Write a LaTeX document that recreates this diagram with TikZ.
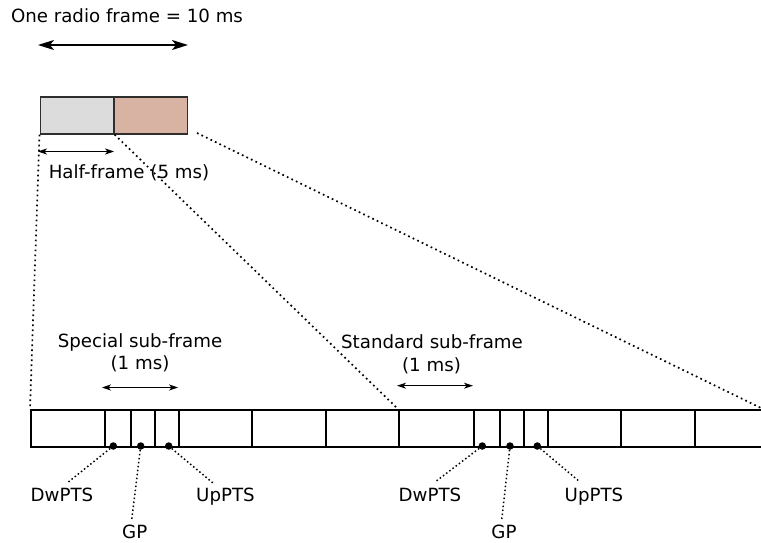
\documentclass[tikz,border=0pt]{standalone}
\usepackage{fontspec}
\setmainfont{DejaVu Sans}
\usetikzlibrary{arrows.meta}
\definecolor{halfgray}{HTML}{DCDCDC}
\definecolor{halfpink}{HTML}{D8B2A2}
\definecolor{boxline}{HTML}{2E2E2E}
\begin{document}
\begin{tikzpicture}[x=1pt,y=-1pt,
  txt/.style={anchor=base,inner sep=0pt,font=\fontsize{18.2}{22}\selectfont},
  halfbox/.style={draw=boxline,line width=1.6pt,anchor=north west,inner sep=0pt,minimum height=36.5pt},
  cell/.style={draw=black,line width=1.7pt,anchor=north west,inner sep=0pt,minimum height=37pt},
  dotline/.style={line width=1.7pt,dash pattern=on 1.7pt off 3.3pt},
  leader/.style={line width=1.5pt,dash pattern=on 1.5pt off 2.5pt},
  pin/.style={circle,fill=black,inner sep=0pt,minimum size=7.5pt},
  bigarrow/.style={line width=1.8pt,{Stealth[length=16pt,width=10pt,inset=4pt]}-{Stealth[length=16pt,width=10pt,inset=4pt]}},
  smallarrow/.style={line width=1pt,{Stealth[length=9pt,width=6pt,inset=2.5pt]}-{Stealth[length=9pt,width=6pt,inset=2.5pt]}}]
\useasboundingbox (0,0) rectangle (761,543);

% title and radio frame arrow
\node[txt] (title) at (127,23) {One radio frame = 10 ms};
\coordinate (fa) at (38,45);
\coordinate (fb) at (188,45);
\draw[bigarrow] (fa) -- (fb);

% radio frame halves
\node[halfbox,fill=halfgray,minimum width=73.5pt] (h1) at (39.5,96.5) {};
\node[halfbox,fill=halfpink,minimum width=73.5pt] (h2) at (113,96.5) {};

% half-frame arrow
\coordinate (ha) at (38,151.5);
\coordinate (hb) at (114,151.5);
\draw[smallarrow] (ha) -- (hb);
\node[txt] (halflabel) at (129,178) {Half-frame (5 ms)};

% sub-frame strip
\foreach \n/\a/\b in {1/30/104,2/104/130,3/130/154,4/154/178,5/178/251,6/251/325,7/325/398,
                      8/398/473,9/473/499,10/499/523,11/523/547,12/547/620,13/620/694,14/694/768}{
  \node[cell,minimum width={\b-\a}] (c\n) at (\a,409) {};
}

% zoom lines
\coordinate (zr) at (761,408);
\coordinate (zs) at (197,133);
\draw[dotline] (h1.south west) -- (c1.north west);
\draw[dotline] (h1.south east) -- (c8.north west);
\draw[dotline] (zs) -- (zr);

% sub-frame labels and arrows
\node[txt] (sp1) at (140,347) {Special sub-frame};
\node[txt] (sp2) at (140,369) {(1 ms)};
\coordinate (sa) at (102,387.5);
\coordinate (sb) at (178,387.5);
\draw[smallarrow] (sa) -- (sb);

\node[txt] (st1) at (432,348) {Standard sub-frame};
\node[txt] (st2) at (431.5,371) {(1 ms)};
\coordinate (ta) at (397,385.7);
\coordinate (tb) at (473,385.7);
\draw[smallarrow] (ta) -- (tb);

% pins
\node[pin] (p1) at (113.3,446) {};
\node[pin] (p2) at (140.7,446) {};
\node[pin] (p3) at (168.7,446) {};
\node[pin] (p4) at (482.3,446) {};
\node[pin] (p5) at (510,446) {};
\node[pin] (p6) at (537.3,446) {};

% field labels
\node[txt] (dw1) at (62,501.7) {DwPTS};
\node[txt] (gp1) at (134.7,538) {GP};
\node[txt] (up1) at (225.5,501.7) {UpPTS};
\node[txt] (dw2) at (430,501.7) {DwPTS};
\node[txt] (gp2) at (504,538) {GP};
\node[txt] (up2) at (594,501.7) {UpPTS};

\coordinate (e1) at (66.7,483.3);
\coordinate (e2) at (131.7,520);
\coordinate (e3) at (213.3,483.3);
\coordinate (e4) at (435,482);
\coordinate (e5) at (501.7,520);
\coordinate (e6) at (580,482);
\draw[leader] (p1) -- (e1);
\draw[leader] (p2) -- (e2);
\draw[leader] (p3) -- (e3);
\draw[leader] (p4) -- (e4);
\draw[leader] (p5) -- (e5);
\draw[leader] (p6) -- (e6);
\end{tikzpicture}
\end{document}
